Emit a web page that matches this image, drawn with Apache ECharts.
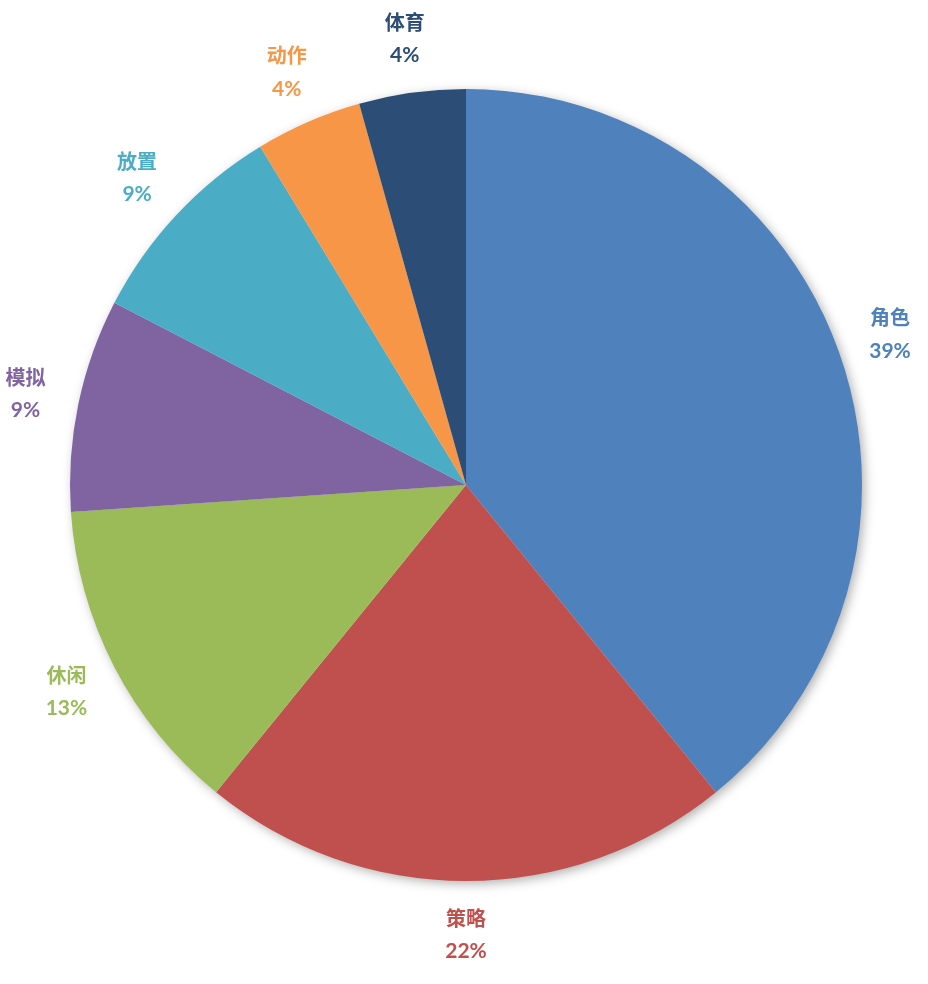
<!DOCTYPE html>
<html><head><meta charset="utf-8">
<script src="https://cdn.jsdelivr.net/npm/echarts@6/dist/echarts.min.js"></script>
<style>html,body{margin:0;padding:0;background:#fff}#c{width:928px;height:984px}</style>
</head><body><div id="c"></div>
<script>
const categories = ['角色', '策略', '休闲', '模拟', '放置', '动作', '体育'];
const values = [9, 5, 3, 2, 2, 1, 1];
const colors = ['#4F81BD', '#C0504D', '#9BBB59', '#8064A2', '#4BACC6', '#F79646', '#2C4D75'];

const data = categories.map((n, i) => ({ name: n, value: values[i] }));
const chart = echarts.init(document.getElementById('c'));
const center = [466, 485];
chart.setOption({
  animation: false,
  color: colors,
  series: [
    {
      // shadow layer underneath
      type: 'pie',
      center: center,
      radius: [0, 395],
      startAngle: 90,
      silent: true,
      z: 1,
      label: { show: false },
      labelLine: { show: false },
      itemStyle: { color: '#ffffff', shadowBlur: 12, shadowOffsetX: 3, shadowOffsetY: 3, shadowColor: 'rgba(0,0,0,0.35)' },
      data: data
    },
    {
      type: 'pie',
      center: center,
      radius: [0, 396],
      startAngle: 90,
      clockwise: true,
      silent: true,
      z: 2,
      label: { show: false },
      labelLine: { show: false },
      data: data
    },
    {
      type: 'pie',
      center: center,
      radius: [438, 456],
      startAngle: 90,
      clockwise: true,
      silent: true,
      z: 3,
      itemStyle: { color: 'rgba(0,0,0,0)' },
      labelLine: { show: false },
      label: {
        show: true,
        position: 'inside',
        formatter: p => '{n|' + p.name + '}\n{v|' + Math.round(p.percent) + '%}',
        rich: {
          n: { fontFamily: '"Noto Sans CJK SC"', fontWeight: 'bold', fontSize: 20, lineHeight: 33 },
          v: { fontFamily: 'Lato, "Noto Sans CJK SC"', fontWeight: 'bold', fontSize: 21, lineHeight: 33 }
        }
      },
      data: data.map((d, i) => ({ name: d.name, value: d.value, label: { color: colors[i] } }))
    }
  ]
});
</script></body></html>
